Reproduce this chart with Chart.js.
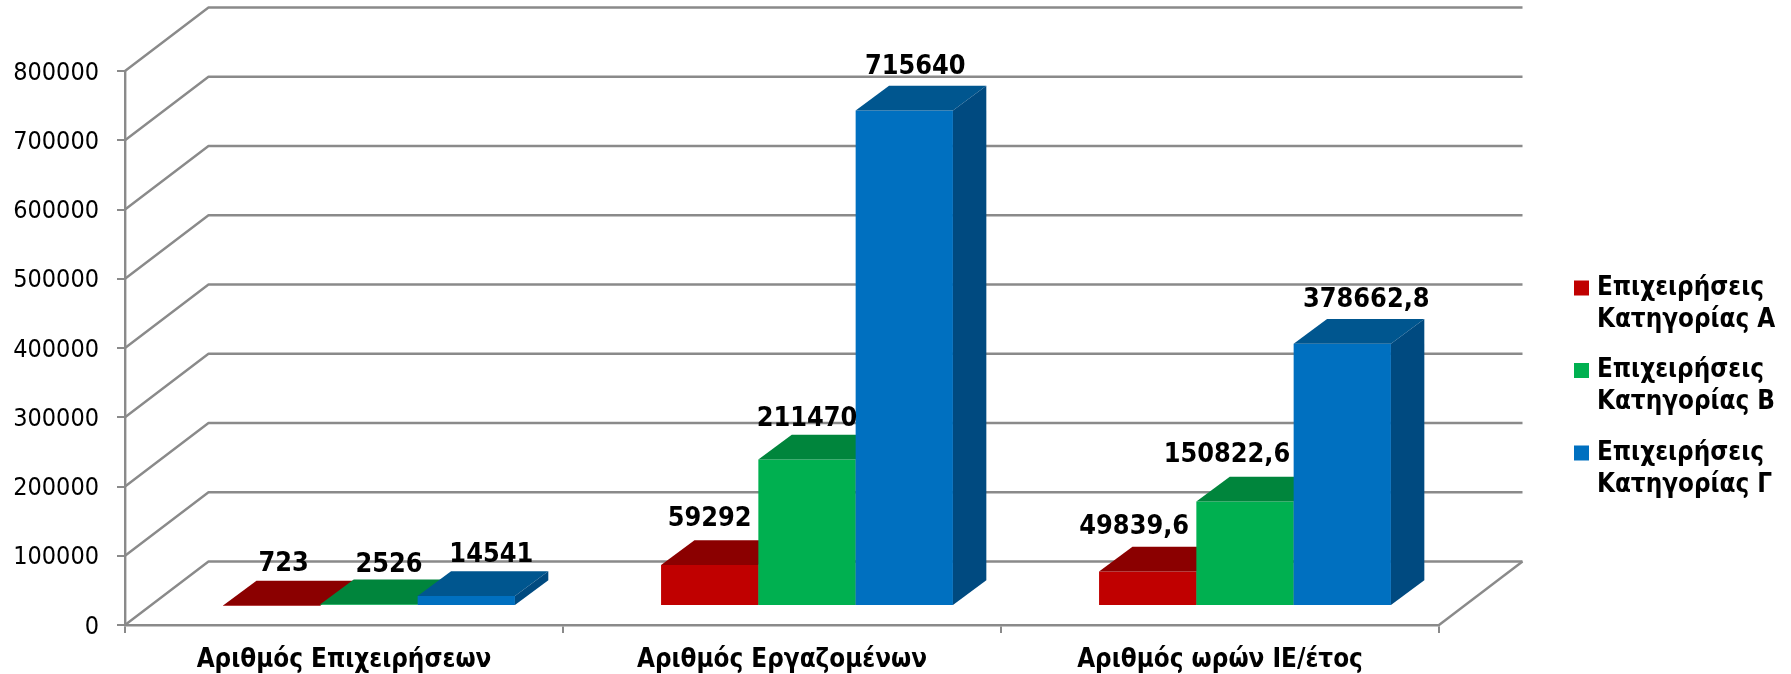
<!DOCTYPE html>
<html><head><meta charset="utf-8">
<style>html,body{margin:0;padding:0;background:#fff}canvas{display:block}</style>
<script src="https://cdn.jsdelivr.net/npm/chart.js@4"></script>
</head><body>
<div style="width:1791px;height:674px"><canvas id="c" width="1791" height="674"></canvas></div>
<script>
const categories = ['Αριθμός Επιχειρήσεων', 'Αριθμός Εργαζομένων', 'Αριθμός ωρών ΙΕ/έτος'];
const seriesA = [723, 59292, 49839.6];
const seriesB = [2526, 211470, 150822.6];
const seriesC = [14541, 715640, 378662.8];
const seriesNames = [
  ['Επιχειρήσεις', 'Κατηγορίας Α'],
  ['Επιχειρήσεις', 'Κατηγορίας Β'],
  ['Επιχειρήσεις', 'Κατηγορίας Γ']
];
const yMax = 800000;
const yStep = 100000;

// style
const frontColors = ['#C00000', '#00B050', '#0070C0'];
const topColors = ['#8B0000', '#00853C', '#00568F'];
const sideColors = ['#7A0000', '#007535', '#004A80'];
const gridColor = '#8A8A8A';
const labelNudgeX = [[12, 0, -13.5], [20, 0, -18], [25, 11, 24]];
const labelLift = [[34, 39, 37], [32, 34, 40], [34, 36, 37]];
const wall = {dx: 83.5, dy: -63.5};
const plane = {dx: 25, dy: -19};
const depth = {dx: 33.4, dy: -24.7};
const fontReg = '"DejaVu Sans Condensed", "DejaVu Sans"';
const fontBold = '"DejaVu Sans Condensed", "DejaVu Sans"';

function fmt(v){ return String(v).replace('.', ','); }

const threeD = {
  id: 'threeD',
  afterLayout(chart){
    const l = chart.legend;
    l.left = 1560.5; l.right = 1791; l.width = 230.5;
    l.top = 256.5; l.bottom = 674; l.height = 417.5;
  },
  beforeDatasetsDraw(chart){
    const {ctx, scales:{x, y}} = chart;
    ctx.save();
    ctx.strokeStyle = gridColor; ctx.lineWidth = 2.4; ctx.lineJoin = 'round';
    y.ticks.forEach(t => {
      const py = y.getPixelForValue(t.value);
      ctx.beginPath();
      ctx.moveTo(x.left, py);
      ctx.lineTo(x.left + wall.dx, py + wall.dy);
      ctx.lineTo(x.right + wall.dx, py + wall.dy);
      ctx.stroke();
    });
    ctx.beginPath();
    ctx.moveTo(x.right, y.bottom);
    ctx.lineTo(x.right + wall.dx, y.bottom + wall.dy);
    ctx.stroke();
    ctx.restore();
  },
  // Bars are painted left to right in afterDatasetsDraw, so each front face covers its neighbour's side.
  beforeDatasetDraw(){ return false; },
  afterDatasetsDraw(chart){
    const ctx = chart.ctx;
    chart.data.datasets.forEach((d, i) => {
      const meta = chart.getDatasetMeta(i);
      ctx.save();
      ctx.translate(plane.dx, plane.dy);
      meta.controller.draw();
      meta.data.forEach(el => {
        const p = el.getProps(['x','y','base','width'], true);
        const l = p.x - p.width/2, r = p.x + p.width/2;
        ctx.fillStyle = topColors[i];
        ctx.beginPath();
        ctx.moveTo(l, p.y); ctx.lineTo(l + depth.dx, p.y + depth.dy);
        ctx.lineTo(r + depth.dx, p.y + depth.dy); ctx.lineTo(r, p.y);
        ctx.closePath(); ctx.fill();
        ctx.fillStyle = sideColors[i];
        ctx.beginPath();
        ctx.moveTo(r, p.y); ctx.lineTo(r + depth.dx, p.y + depth.dy);
        ctx.lineTo(r + depth.dx, p.base + depth.dy); ctx.lineTo(r, p.base);
        ctx.closePath(); ctx.fill();
      });
      ctx.restore();
    });
    ctx.save();
    ctx.fillStyle = '#000'; ctx.textAlign = 'center'; ctx.textBaseline = 'alphabetic';
    ctx.font = 'bold 26.8px ' + fontBold;
    chart.data.datasets.forEach((d, i) => {
      chart.getDatasetMeta(i).data.forEach((el, j) => {
        const p = el.getProps(['x','y'], true);
        ctx.fillText(fmt(d.data[j]), p.x + plane.dx + labelNudgeX[i][j], p.y + plane.dy - labelLift[i][j]);
      });
    });
    ctx.restore();
  }
};

const seriesValues = [seriesA, seriesB, seriesC];
new Chart(document.getElementById('c'), {
  type: 'bar',
  data: {
    labels: categories,
    datasets: seriesValues.map((vals, i) => ({
      label: seriesNames[i].join(' '),
      data: vals,
      backgroundColor: frontColors[i],
      borderWidth: 0,
      clip: false,
      barPercentage: 1,
      categoryPercentage: 0.6664
    }))
  },
  options: {
    responsive: false,
    animation: false,
    layout: {autoPadding: false, padding: {left: 0, top: 71, right: 152, bottom: 0}},
    plugins: {
      tooltip: {enabled: false},
      legend: {
        position: 'right', align: 'start', maxWidth: 200,
        labels: {
          color: '#000', padding: 18.5, boxWidth: 5, boxHeight: 15,
          usePointStyle: true, pointStyle: 'rect',
          font: {family: fontBold, size: 25.8, weight: 'bold', lineHeight: 32/25.8},
          generateLabels: () => seriesNames.map((n, i) => ({
            text: n, fillStyle: frontColors[i], strokeStyle: frontColors[i], lineWidth: 0,
            pointStyle: 'rect', datasetIndex: i, hidden: false
          }))
        }
      }
    },
    scales: {
      x: {
        offset: true,
        grid: {color: gridColor, lineWidth: 2, drawOnChartArea: false, drawTicks: true, tickLength: 8, offset: true},
        border: {color: gridColor, width: 2.4},
        ticks: {color: '#000', padding: 12, maxRotation: 0, autoSkip: false, font: {family: fontBold, size: 25.8, weight: 'bold'}},
        afterFit(s){ s.height = 49; }
      },
      y: {
        min: 0, max: yMax,
        grid: {color: gridColor, lineWidth: 2, drawOnChartArea: false, drawTicks: true, tickLength: 8},
        border: {color: gridColor, width: 2.4},
        ticks: {stepSize: yStep, color: '#000', padding: 18, labelOffset: 2, font: {family: fontReg, size: 25}, callback: v => String(v)},
        afterFit(s){ s.width = 125; }
      }
    }
  },
  plugins: [threeD]
});
</script>
</body></html>
